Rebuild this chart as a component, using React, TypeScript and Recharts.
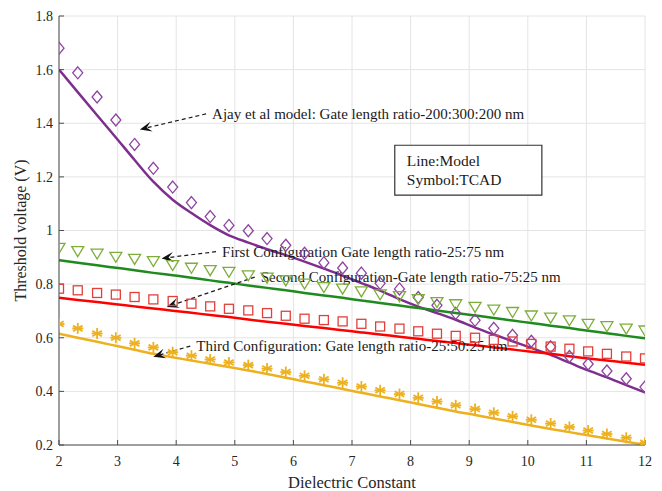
import React from 'react';
import {
  ComposedChart,
  Line,
  XAxis,
  YAxis,
  CartesianGrid,
  ReferenceLine,
  ReferenceArea,
} from 'recharts';

// Dielectric constant sample points (32 points from 2 to 12)
const dielectric = [
  2, 2.32, 2.65, 2.97, 3.29, 3.61, 3.94, 4.26, 4.58, 4.9, 5.23, 5.55, 5.87, 6.19, 6.52, 6.84,
  7.16, 7.48, 7.81, 8.13, 8.45, 8.77, 9.1, 9.42, 9.74, 10.06, 10.39, 10.71, 11.03, 11.35, 11.68, 12,
];

// Ajay et al model (purple)
const ajayModel = [
  1.6, 1.516, 1.43, 1.347, 1.263, 1.182, 1.115, 1.065, 1.02, 0.982, 0.955, 0.93, 0.908, 0.884,
  0.858, 0.832, 0.804, 0.776, 0.744, 0.716, 0.692, 0.667, 0.638, 0.612, 0.587, 0.562, 0.536,
  0.507, 0.478, 0.452, 0.423, 0.396,
];
const ajayTcad = [
  1.68, 1.588, 1.498, 1.412, 1.321, 1.232, 1.162, 1.104, 1.052, 1.019, 0.999, 0.97, 0.945, 0.915,
  0.88, 0.86, 0.841, 0.803, 0.782, 0.75, 0.721, 0.691, 0.665, 0.635, 0.609, 0.587, 0.566, 0.53,
  0.502, 0.476, 0.447, 0.416,
];

// First configuration (green)
const firstModel = [
  0.889, 0.88, 0.87, 0.861, 0.852, 0.842, 0.833, 0.824, 0.814, 0.805, 0.795, 0.786, 0.777, 0.767,
  0.758, 0.749, 0.739, 0.73, 0.72, 0.711, 0.702, 0.692, 0.683, 0.674, 0.664, 0.655, 0.645, 0.636,
  0.626, 0.617, 0.607, 0.598,
];
const firstTcad = [
  0.935, 0.923, 0.914, 0.902, 0.894, 0.886, 0.871, 0.861, 0.852, 0.846, 0.833, 0.824, 0.814, 0.802,
  0.789, 0.783, 0.773, 0.762, 0.755, 0.744, 0.733, 0.725, 0.715, 0.705, 0.696, 0.683, 0.675, 0.665,
  0.652, 0.643, 0.634, 0.627,
];

// Second configuration (red)
const secondModel = [
  0.749, 0.741, 0.733, 0.725, 0.717, 0.709, 0.701, 0.693, 0.685, 0.677, 0.668, 0.66, 0.652, 0.644,
  0.636, 0.628, 0.62, 0.612, 0.604, 0.596, 0.588, 0.58, 0.572, 0.564, 0.556, 0.548, 0.54, 0.531,
  0.523, 0.515, 0.507, 0.499,
];
const secondTcad = [
  0.783, 0.777, 0.767, 0.761, 0.752, 0.743, 0.737, 0.727, 0.717, 0.708, 0.702, 0.692, 0.682, 0.671,
  0.666, 0.661, 0.652, 0.642, 0.634, 0.624, 0.615, 0.607, 0.6, 0.592, 0.586, 0.577, 0.567, 0.559,
  0.549, 0.54, 0.53, 0.523,
];

// Third configuration (yellow)
const thirdModel = [
  0.615, 0.6, 0.585, 0.57, 0.555, 0.54, 0.527, 0.515, 0.503, 0.491, 0.478, 0.465, 0.451, 0.437,
  0.423, 0.409, 0.395, 0.381, 0.367, 0.353, 0.339, 0.325, 0.312, 0.299, 0.286, 0.273, 0.26, 0.248,
  0.236, 0.224, 0.212, 0.201,
];
const thirdTcad = [
  0.651, 0.635, 0.616, 0.6, 0.579, 0.564, 0.546, 0.533, 0.519, 0.508, 0.498, 0.485, 0.472, 0.458,
  0.445, 0.432, 0.418, 0.404, 0.39, 0.376, 0.362, 0.348, 0.334, 0.32, 0.307, 0.294, 0.28, 0.267,
  0.254, 0.241, 0.227, 0.208,
];

const xTicks = [2, 3, 4, 5, 6, 7, 8, 9, 10, 11, 12];
const yTicks = [0.2, 0.4, 0.6, 0.8, 1.0, 1.2, 1.4, 1.6, 1.8];

const xLabel = 'Dielectric Constant';
const yLabel = 'Threshold voltage (V)';
const boxLines = ['Line:Model', 'Symbol:TCAD'];

const annotations = [
  { text: 'Ajay et al model: Gate length ratio-200:300:200 nm', from: [4.51, 1.435], to: [3.38, 1.377] },
  { text: 'First Configuration Gate length ratio-25:75 nm', from: [4.68, 0.921], to: [3.75, 0.896] },
  { text: 'Second Configuration-Gate length ratio-75:25 nm', from: [5.34, 0.826], to: [3.84, 0.715] },
  { text: 'Third Configuration: Gate length ratio-25:50:25 nm', from: [4.24, 0.569], to: [3.61, 0.529] },
];

const data = dielectric.map((x, i) => ({
  x,
  ajayModel: ajayModel[i],
  ajayTcad: ajayTcad[i],
  firstModel: firstModel[i],
  firstTcad: firstTcad[i],
  secondModel: secondModel[i],
  secondTcad: secondTcad[i],
  thirdModel: thirdModel[i],
  thirdTcad: thirdTcad[i],
}));

const FONT = '"Liberation Serif", "Times New Roman", serif';
const TEXT = '#262626';

const PURPLE = '#7E2F8E';
const PURPLE_M = '#8E44A0';
const GREEN = '#1F8A1F';
const GREEN_M = '#7DAE3A';
const RED = '#FF0000';
const RED_M = '#E2403C';
const YELLOW = '#EDB120';

const diamondDot = (props: any) => {
  const { cx, cy, index } = props;
  if (cx == null || cy == null) return <g key={`dd-${index}`} />;
  return (
    <path
      key={`dd-${index}`}
      d={`M${cx},${cy - 6}L${cx + 5},${cy}L${cx},${cy + 6}L${cx - 5},${cy}Z`}
      fill="none"
      stroke={PURPLE_M}
      strokeWidth={1.3}
    />
  );
};

const triangleDot = (props: any) => {
  const { cx, cy, index } = props;
  if (cx == null || cy == null) return <g key={`td-${index}`} />;
  return (
    <path
      key={`td-${index}`}
      d={`M${cx - 6},${cy - 4.5}L${cx + 6},${cy - 4.5}L${cx},${cy + 5.5}Z`}
      fill="none"
      stroke={GREEN_M}
      strokeWidth={1.3}
    />
  );
};

const squareDot = (props: any) => {
  const { cx, cy, index } = props;
  if (cx == null || cy == null) return <g key={`sd-${index}`} />;
  return (
    <rect
      key={`sd-${index}`}
      x={cx - 4.5}
      y={cy - 4.5}
      width={9}
      height={9}
      fill="none"
      stroke={RED_M}
      strokeWidth={1.3}
    />
  );
};

const starDot = (props: any) => {
  const { cx, cy, index } = props;
  if (cx == null || cy == null) return <g key={`st-${index}`} />;
  const r = 5.5;
  const a = r * 0.866;
  const b = r * 0.5;
  return (
    <g key={`st-${index}`} stroke={YELLOW} strokeWidth={1.8}>
      <line x1={cx} y1={cy - r} x2={cx} y2={cy + r} />
      <line x1={cx - a} y1={cy - b} x2={cx + a} y2={cy + b} />
      <line x1={cx - a} y1={cy + b} x2={cx + a} y2={cy - b} />
      <line x1={cx - r} y1={cy} x2={cx + r} y2={cy} />
    </g>
  );
};

const makeArrow = (text: string) => (props: any) => {
  const { x1, y1, x2, y2 } = props;
  if ([x1, y1, x2, y2].some((v) => v == null || isNaN(v))) return <g />;
  const dx = x2 - x1;
  const dy = y2 - y1;
  const len = Math.hypot(dx, dy) || 1;
  const ux = dx / len;
  const uy = dy / len;
  const px = -uy;
  const py = ux;
  const L = 12;
  const W = 5;
  const N = 7;
  const bx = x2 - ux * L;
  const by = y2 - uy * L;
  const nx = x2 - ux * N;
  const ny = y2 - uy * N;
  const head = `M${x2},${y2}L${bx + px * W},${by + py * W}L${nx},${ny}L${bx - px * W},${by - py * W}Z`;
  return (
    <g>
      <line x1={x1} y1={y1} x2={nx} y2={ny} stroke="#1a1a1a" strokeWidth={1.2} strokeDasharray="4 3" />
      <path d={head} fill="#111" />
      <text
        x={x1 + 6}
        y={y1}
        dominantBaseline="central"
        fontFamily={FONT}
        fontSize={15}
        fill="#1a1a1a"
      >
        {text}
      </text>
    </g>
  );
};

const boxLabel = (props: any) => {
  const vb = props.viewBox || {};
  const { x, y } = vb;
  if (x == null) return null;
  return (
    <g>
      {boxLines.map((t, i) => (
        <text
          key={t}
          x={x + 12}
          y={y + 15 + i * 19}
          dominantBaseline="central"
          fontFamily={FONT}
          fontSize={15.5}
          fill="#1a1a1a"
        >
          {t}
        </text>
      ))}
    </g>
  );
};

const fmt = (v: number) => String(Number(v.toFixed(1)));

export default function App() {
  return (
    <div style={{ position: 'absolute', left: 8, top: 8 }}>
      <ComposedChart
        width={646}
        height={483}
        data={data}
        margin={{ top: 8, right: 9, left: 0, bottom: 0 }}
        style={{ background: '#fff' }}
      >
        <CartesianGrid stroke="#e4e4e4" strokeWidth={1} />
        <XAxis
          dataKey="x"
          type="number"
          domain={[2, 12]}
          ticks={xTicks}
          allowDataOverflow
          height={46}
          tickSize={-5}
          tickMargin={16}
          axisLine={{ stroke: '#4d4d4d', strokeWidth: 1 }}
          tickLine={{ stroke: '#4d4d4d' }}
          tick={{ fontFamily: FONT, fontSize: 14, fill: TEXT }}
          label={{
            value: xLabel,
            position: 'insideBottom',
            offset: 3,
            style: { fontFamily: FONT, fontSize: 16.5, fill: TEXT },
          }}
        />
        <XAxis
          xAxisId="top"
          dataKey="x"
          type="number"
          orientation="top"
          domain={[2, 12]}
          ticks={xTicks}
          allowDataOverflow
          height={0}
          tickSize={-5}
          tick={false}
          axisLine={{ stroke: '#4d4d4d', strokeWidth: 1 }}
          tickLine={{ stroke: '#4d4d4d' }}
        />
        <YAxis
          type="number"
          domain={[0.2, 1.8]}
          ticks={yTicks}
          allowDataOverflow
          width={51}
          tickSize={-5}
          tickMargin={11}
          tickFormatter={fmt}
          axisLine={{ stroke: '#4d4d4d', strokeWidth: 1 }}
          tickLine={{ stroke: '#4d4d4d' }}
          tick={{ fontFamily: FONT, fontSize: 14, fill: TEXT }}
          label={{
            value: yLabel,
            angle: -90,
            position: 'insideLeft',
            offset: 12,
            style: { fontFamily: FONT, fontSize: 16, fill: TEXT, textAnchor: 'middle' },
          }}
        />
        <YAxis
          yAxisId="right"
          type="number"
          orientation="right"
          domain={[0.2, 1.8]}
          ticks={yTicks}
          allowDataOverflow
          width={0}
          tickSize={-5}
          tick={false}
          axisLine={{ stroke: '#4d4d4d', strokeWidth: 1 }}
          tickLine={{ stroke: '#4d4d4d' }}
        />

        <Line dataKey="ajayModel" type="monotone" stroke={PURPLE} strokeWidth={2.5} dot={false} activeDot={false} isAnimationActive={false} />
        <Line dataKey="firstModel" type="monotone" stroke={GREEN} strokeWidth={2.5} dot={false} activeDot={false} isAnimationActive={false} />
        <Line dataKey="secondModel" type="monotone" stroke={RED} strokeWidth={2.5} dot={false} activeDot={false} isAnimationActive={false} />
        <Line dataKey="thirdModel" type="monotone" stroke={YELLOW} strokeWidth={2.5} dot={false} activeDot={false} isAnimationActive={false} />

        <Line dataKey="ajayTcad" stroke="none" dot={diamondDot} activeDot={false} isAnimationActive={false} />
        <Line dataKey="firstTcad" stroke="none" dot={triangleDot} activeDot={false} isAnimationActive={false} />
        <Line dataKey="secondTcad" stroke="none" dot={squareDot} activeDot={false} isAnimationActive={false} />
        <Line dataKey="thirdTcad" stroke="none" dot={starDot} activeDot={false} isAnimationActive={false} />

        {annotations.map((a) => (
          <ReferenceLine
            key={a.text}
            segment={[
              { x: a.from[0], y: a.from[1] },
              { x: a.to[0], y: a.to[1] },
            ]}
            ifOverflow="visible"
            shape={makeArrow(a.text)}
          />
        ))}

        <ReferenceArea
          x1={7.73}
          x2={10.24}
          y1={1.132}
          y2={1.318}
          ifOverflow="visible"
          fill="#ffffff"
          fillOpacity={1}
          stroke="#333"
          strokeWidth={1.2}
          label={{ content: boxLabel }}
        />
      </ComposedChart>
    </div>
  );
}
